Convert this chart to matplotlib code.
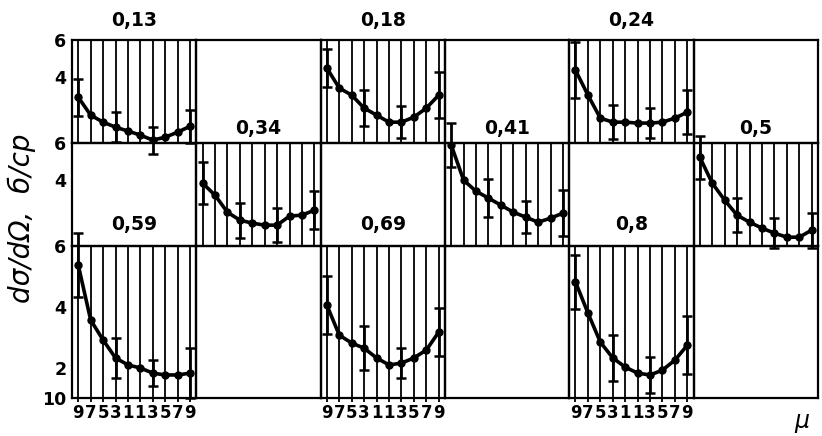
import matplotlib
matplotlib.use("Agg")
import matplotlib.pyplot as plt
import numpy as np

# cos(theta) bins, same for every panel
mu = [-0.9, -0.7, -0.5, -0.3, -0.1, 0.1, 0.3, 0.5, 0.7, 0.9]
mu_labels = ["9", "7", "5", "3", "1", "1", "3", "5", "7", "9"]
err_idx = [0, 3, 6, 9]

# energy labels, one per filled panel
energies = ["0,13", "0,18", "0,24", "0,34", "0,41", "0,5", "0,59", "0,69", "0,8"]

# dsigma/dOmega
ds_013 = [2.92, 1.95, 1.57, 1.30, 1.09, 0.87, 0.60, 0.76, 1.03, 1.35]
ds_018 = [4.49, 3.41, 3.03, 2.33, 1.95, 1.57, 1.57, 1.84, 2.33, 3.03]
ds_024 = [4.38, 3.03, 1.79, 1.57, 1.57, 1.52, 1.52, 1.57, 1.79, 2.11]
ds_034 = [3.84, 3.19, 2.27, 1.84, 1.68, 1.57, 1.57, 2.06, 2.11, 2.38]
ds_041 = [5.90, 4.00, 3.40, 3.03, 2.65, 2.27, 2.00, 1.73, 1.95, 2.22]
ds_050 = [5.24, 3.84, 2.92, 2.11, 1.73, 1.41, 1.14, 0.92, 0.92, 1.30]
ds_059 = [5.38, 3.57, 2.91, 2.32, 2.09, 1.99, 1.82, 1.76, 1.76, 1.82]
ds_069 = [4.06, 3.07, 2.81, 2.64, 2.32, 2.09, 2.15, 2.32, 2.58, 3.17]
ds_080 = [4.82, 3.80, 2.84, 2.32, 2.02, 1.82, 1.76, 1.92, 2.25, 2.74]

# error bars at mu = -0.9, -0.3, 0.3, 0.9
er_013 = [1.00, 0.80, 0.73, 0.90]
er_018 = [1.03, 0.95, 0.86, 1.24]
er_024 = [1.50, 0.90, 0.80, 1.20]
er_034 = [1.13, 0.95, 0.90, 1.03]
er_041 = [1.20, 1.03, 0.86, 1.24]
er_050 = [1.16, 0.90, 0.80, 0.95]
er_059 = [1.04, 0.66, 0.43, 0.82]
er_069 = [0.94, 0.72, 0.49, 0.79]
er_080 = [0.90, 0.77, 0.58, 0.95]

values = [ds_013, ds_018, ds_024, ds_034, ds_041, ds_050, ds_059, ds_069, ds_080]
errors = [er_013, er_018, er_024, er_034, er_041, er_050, er_059, er_069, er_080]

# checkerboard: which cell of the 3x6 grid holds each panel
cells = [(0, 0), (0, 2), (0, 4), (1, 1), (1, 3), (1, 5), (2, 0), (2, 2), (2, 4)]

row_ylim = [(0.44, 6), (0.44, 6), (1, 6)]
row_yticks = [[6, 4], [6, 4], [6, 4, 2, 1]]
row_ylabels = [["6", "4"], ["6", "4"], ["6", "4", "2", "10"]]
label_y = [1.19, 1.145, 1.14]   # energy label height, axes fraction

fig = plt.figure(figsize=(8.22, 4.36), dpi=100)
gs = fig.add_gridspec(3, 6, left=0.0876, right=0.995, top=0.908, bottom=0.087,
                      hspace=0, wspace=0, height_ratios=[103, 103, 152])

axes = {}
for r in range(3):
    for c in range(6):
        ax = fig.add_subplot(gs[r, c])
        ax.set_facecolor("none")
        ax.set_xlim(-1, 1)
        ax.set_ylim(*row_ylim[r])
        ax.set_xticks([])
        ax.set_yticks([])
        for s in ax.spines.values():
            s.set_linewidth(1.6)
        axes[(r, c)] = ax

bold = dict(fontweight="bold", family="DejaVu Sans")

for k, (r, c) in enumerate(cells):
    ax = axes[(r, c)]
    for m in mu:
        ax.axvline(m, color="black", lw=1.3, zorder=1)
    y = np.array(values[k])
    ax.plot(mu, y, color="black", lw=2.6, marker="o", ms=5, zorder=3)
    ex = [mu[i] for i in err_idx]
    ey = [y[i] for i in err_idx]
    ax.errorbar(ex, ey, yerr=errors[k], fmt="none", ecolor="black",
                elinewidth=2, capsize=3.5, capthick=1.8, zorder=3, clip_on=False)
    # energy label sits above the panel
    ax.text(0.5, label_y[r], energies[k], transform=ax.transAxes, ha="center",
            va="center", fontsize=13.5, **bold)
    if r == 2:
        ax.set_xticks(mu)
        ax.set_xticklabels(mu_labels, fontsize=12, **bold)
        ax.tick_params(axis="x", length=3, width=1.3, pad=1)

for r in range(3):
    ax = axes[(r, 0)]
    ax.set_yticks(row_yticks[r])
    ax.set_yticklabels(row_ylabels[r], fontsize=12.5, **bold)
    ax.tick_params(axis="y", length=0, pad=4)

fig.text(0.026, 0.50, "dσ/dΩ,  б/ср", rotation=90, ha="center", va="center",
         fontsize=20, style="italic", family="DejaVu Sans")
fig.text(0.975, 0.035, "μ", ha="center", va="center", fontsize=17, style="italic",
         family="DejaVu Sans")

plt.savefig("out.png", dpi=100)
